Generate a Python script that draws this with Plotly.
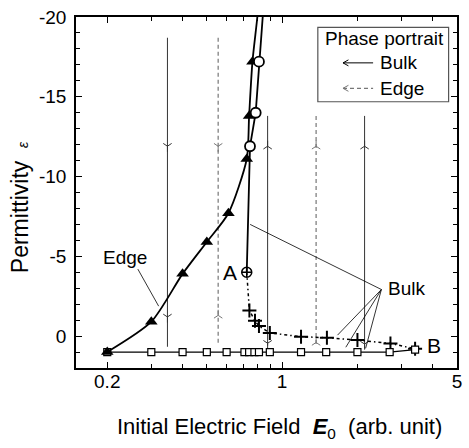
import math
import plotly.graph_objects as go

FONT = "Arial, 'Liberation Sans', sans-serif"

# ---- axis ticks ----
x_tick_vals = [0.2, 1, 5]
x_tick_text = ["0.2", "1", "5"]
x_minor_vals = [0.3, 0.4, 0.5, 0.6, 0.7, 0.8, 0.9, 2, 3, 4]
y_tick_vals = [-20, -15, -10, -5, 0]
y_tick_text = ["-20", "-15", "-10", "-5", "0"]

# ---- vacuum / boundary line (open squares) ----
square_x = [0.2, 0.3, 0.4, 0.5, 0.6, 0.707, 0.738, 0.775, 0.808, 0.893, 1.19, 1.5, 2.0, 2.69, 3.4]
square_eps = [1, 1, 1, 1, 1, 1, 1, 1, 1, 1, 1, 1, 1, 1, 0.85]

# ---- edge branch (filled triangles) ----
edge_x = [0.2, 0.3, 0.4, 0.5, 0.61, 0.722, 0.738, 0.761]
edge_eps = [1, -0.9, -3.9, -5.9, -7.7, -11.1, -13.8, -17.2]
edge_line_x = [0.2, 0.3, 0.4, 0.5, 0.61, 0.722, 0.738, 0.761, 0.796, 0.81]
edge_line_eps = [1, -0.9, -3.9, -5.9, -7.7, -11.1, -13.8, -17.2, -20, -21.5]

# ---- bulk upper branch (open circles) ----
bulk_up_x = [0.744, 0.784, 0.808]
bulk_up_eps = [-11.9, -14.0, -17.2]
bulk_up_line_x = [0.722, 0.735, 0.744, 0.784, 0.808, 0.835, 0.85]
bulk_up_line_eps = [-4, -8, -11.9, -14.0, -17.2, -20, -21.5]

# ---- bulk lower branch (crosses, dotted) ----
bulk_low_x = [0.722, 0.74, 0.779, 0.808, 0.893, 1.19, 1.51, 2.0, 2.71, 3.4]
bulk_low_eps = [-4, -1.6, -0.96, -0.63, -0.2, 0.04, 0.1, 0.25, 0.46, 0.8]

# ---- special points ----
point_A = (0.722, -4.0)

# ---- phase portrait lines ----
phase_bulk_x = [0.348, 0.875, 2.136]
phase_bulk_top = [-18.7, -13.8, -13.8]
phase_bulk_bot = [0.67, 0.6, 0.75]
phase_edge_x = [0.555, 1.367]
phase_edge_top = [-18.7, -13.8]
phase_edge_bot = [0.6, 0.55]

# arrows on phase lines
bulk_arrow_x = [0.348, 0.348, 0.875, 0.875, 2.136, 2.136]
bulk_arrow_eps = [-11.9, -1.2, -11.9, 0.45, -11.9, 0.5]
bulk_arrow_dir = ["down", "down", "up", "down", "up", "down"]
edge_arrow_x = [0.555, 0.555, 1.367, 1.367]
edge_arrow_eps = [-11.9, -1.3, -11.9, 0.4]
edge_arrow_dir = ["down", "up", "up", "up"]

# ---- label pointer lines (tail -> targets) ----
bulk_ptr_tail = (2.493, -2.92)
bulk_ptr_x = [0.745, 1.665, 1.797, 2.156]
bulk_ptr_eps = [-7.0, -0.06, 0.7, 0.77]
edge_ptr_x = [0.265, 0.321]
edge_ptr_eps = [-4.2, -1.875]

BULK_PH = "#333333"
EDGE_PH = "#777777"

fig = go.Figure()


def seg_xy(xs, tops, bots):
    X, Y = [], []
    for x, t, b in zip(xs, tops, bots):
        X += [x, x, None]
        Y += [t, b, None]
    return X, Y


bx, by = seg_xy(phase_bulk_x, phase_bulk_top, phase_bulk_bot)
fig.add_trace(go.Scatter(x=bx, y=by, mode="lines",
                         line=dict(color=BULK_PH, width=1), hoverinfo="skip"))
ex, ey = seg_xy(phase_edge_x, phase_edge_top, phase_edge_bot)
fig.add_trace(go.Scatter(x=ex, y=ey, mode="lines",
                         line=dict(color=EDGE_PH, width=1.2, dash="4px,3px"), hoverinfo="skip"))

fig.add_trace(go.Scatter(
    x=bulk_arrow_x, y=bulk_arrow_eps, mode="markers",
    marker=dict(symbol=["y-down" if d == "down" else "y-up" for d in bulk_arrow_dir],
                size=7, color=BULK_PH, line=dict(color=BULK_PH, width=1)),
    hoverinfo="skip"))
fig.add_trace(go.Scatter(
    x=edge_arrow_x, y=edge_arrow_eps, mode="markers",
    marker=dict(symbol=["y-down" if d == "down" else "y-up" for d in edge_arrow_dir],
                size=7, color=EDGE_PH, line=dict(color=EDGE_PH, width=1)),
    hoverinfo="skip"))

# pointer lines for labels
px_, py_ = [], []
for tx, te in zip(bulk_ptr_x, bulk_ptr_eps):
    px_ += [bulk_ptr_tail[0], tx, None]
    py_ += [bulk_ptr_tail[1], te, None]
px_ += edge_ptr_x
py_ += edge_ptr_eps
fig.add_trace(go.Scatter(x=px_, y=py_, mode="lines",
                         line=dict(color="black", width=0.8), hoverinfo="skip"))

# bulk lower dotted branch
fig.add_trace(go.Scatter(x=bulk_low_x, y=bulk_low_eps, mode="lines",
                         line=dict(color="black", width=1.5, dash="3px,3px,1.5px,3px"),
                         hoverinfo="skip"))
fig.add_trace(go.Scatter(x=bulk_low_x[1:], y=bulk_low_eps[1:], mode="markers",
                         marker=dict(symbol="cross-thin", size=10, color="black",
                                     line=dict(color="black", width=2)),
                         hoverinfo="skip"))

# squares line
fig.add_trace(go.Scatter(x=square_x, y=square_eps, mode="lines+markers",
                         line=dict(color="black", width=1.3),
                         marker=dict(symbol="square", size=7, color="white",
                                     line=dict(color="black", width=1.2)),
                         hoverinfo="skip"))

# edge branch
fig.add_trace(go.Scatter(x=edge_line_x, y=edge_line_eps, mode="lines",
                         line=dict(color="black", width=1.8, shape="spline", smoothing=0.7),
                         hoverinfo="skip"))
fig.add_trace(go.Scatter(x=edge_x, y=edge_eps, mode="markers",
                         marker=dict(symbol="triangle-up", size=11, color="black"),
                         hoverinfo="skip"))

# bulk upper branch
fig.add_trace(go.Scatter(x=bulk_up_line_x, y=bulk_up_line_eps, mode="lines",
                         line=dict(color="black", width=1.8),
                         hoverinfo="skip"))
fig.add_trace(go.Scatter(x=bulk_up_x, y=bulk_up_eps, mode="markers",
                         marker=dict(symbol="circle", size=10, color="white",
                                     line=dict(color="black", width=1.8)),
                         hoverinfo="skip"))

# point A
fig.add_trace(go.Scatter(x=[point_A[0]], y=[point_A[1]], mode="markers",
                         marker=dict(symbol="circle-cross-open", size=10, color="black",
                                     line=dict(color="black", width=1.5)),
                         hoverinfo="skip"))

# ---- layout geometry ----
L, R, T, B = 76, 7, 16, 80
W, H = 469, 448
PW, PH = W - L - R, H - T - B


def px(xp):
    return (xp - L) / PW


def py(yp):
    return 1 - (yp - T) / PH


lg = math.log10
annotations = []
TXT = dict(family=FONT, size=19, color="black")

annotations.append(dict(x=lg(0.235), y=-4.92, xref="x", yref="y", text="Edge",
                        showarrow=False, font=TXT))
annotations.append(dict(x=lg(0.62), y=-4.0, xref="x", yref="y", text="A",
                        showarrow=False, font=dict(family=FONT, size=21, color="black")))
annotations.append(dict(x=lg(4.05), y=0.6, xref="x", yref="y", text="B",
                        showarrow=False, font=dict(family=FONT, size=21, color="black")))
annotations.append(dict(x=lg(3.13), y=-2.98, xref="x", yref="y", text="Bulk",
                        showarrow=False, font=TXT))

# legend texts
annotations.append(dict(x=px(326), y=py(38), xref="paper", yref="paper",
                        text="Phase portrait", showarrow=False, xanchor="left",
                        yanchor="middle", font=TXT))
annotations.append(dict(x=px(382), y=py(62), xref="paper", yref="paper",
                        text="Bulk", showarrow=False, xanchor="left",
                        yanchor="middle", font=TXT))
annotations.append(dict(x=px(382), y=py(87.5), xref="paper", yref="paper",
                        text="Edge", showarrow=False, xanchor="left",
                        yanchor="middle", font=TXT))

# axis titles
annotations.append(dict(x=px(20), y=py(207), xref="paper", yref="paper",
                        text="Permittivity  <span style='font-size:14px'><i>\u03b5</i></span>",
                        textangle=-90, showarrow=False, xanchor="center", yanchor="middle",
                        font=dict(family=FONT, size=23, color="black")))
annotations.append(dict(x=px(282), y=py(428), xref="paper", yref="paper",
                        text="Initial Electric Field  <b><i>E</i></b><sub>0</sub>  (arb. unit)",
                        showarrow=False, xanchor="center", yanchor="middle",
                        font=dict(family=FONT, size=22, color="black")))

shapes = []
# legend box
shapes.append(dict(type="rect", xref="paper", yref="paper",
                   x0=px(321), x1=px(453.5), y0=py(101), y1=py(26.5),
                   line=dict(color="#555555", width=1.2), fillcolor="white", layer="above"))
# legend lines
shapes.append(dict(type="line", xref="paper", yref="paper",
                   x0=px(346.5), x1=px(377), y0=py(62), y1=py(62),
                   line=dict(color="black", width=1), layer="above"))
shapes.append(dict(type="line", xref="paper", yref="paper",
                   x0=px(346.5), x1=px(377), y0=py(87.5), y1=py(87.5),
                   line=dict(color=EDGE_PH, width=1.2, dash="4px,3px"), layer="above"))
for yy, col in [(62, "black"), (87.5, EDGE_PH)]:
    shapes.append(dict(type="path", xref="paper", yref="paper",
                       path=f"M{px(352)},{py(yy - 3)} L{px(346.5)},{py(yy)} L{px(352)},{py(yy + 3)}",
                       line=dict(color=col, width=1), layer="above"))

fig.update_layout(
    width=W, height=H,
    margin=dict(l=L, r=R, t=T, b=B, pad=0),
    paper_bgcolor="white", plot_bgcolor="white",
    showlegend=False,
    font=dict(family=FONT, size=19, color="black"),
    annotations=annotations,
    shapes=shapes,
    xaxis=dict(type="log", range=[lg(0.15), lg(5)],
               tickmode="array", tickvals=x_tick_vals, ticktext=x_tick_text,
               ticks="inside", ticklen=6, tickwidth=1.2, tickcolor="black",
               minor=dict(tickmode="array", tickvals=x_minor_vals, ticks="inside",
                          ticklen=4, tickwidth=1, tickcolor="black", showgrid=False),
               showline=True, linewidth=1.6, linecolor="black", mirror="ticks",
               showgrid=False, zeroline=False,
               tickfont=dict(family=FONT, size=19, color="black"),
               ticklabelstandoff=-5),
    yaxis=dict(range=[2, -20], autorange=False,
               tickmode="array", tickvals=y_tick_vals, ticktext=y_tick_text,
               ticks="inside", ticklen=6, tickwidth=1.2, tickcolor="black",
               minor=dict(dtick=1, tick0=0, ticks="inside", ticklen=4, tickwidth=1,
                          tickcolor="black", showgrid=False),
               showline=True, linewidth=1.6, linecolor="black", mirror="ticks",
               showgrid=False, zeroline=False,
               tickfont=dict(family=FONT, size=19, color="black"),
               ticklabelstandoff=4),
)

fig.write_html("out.html")
